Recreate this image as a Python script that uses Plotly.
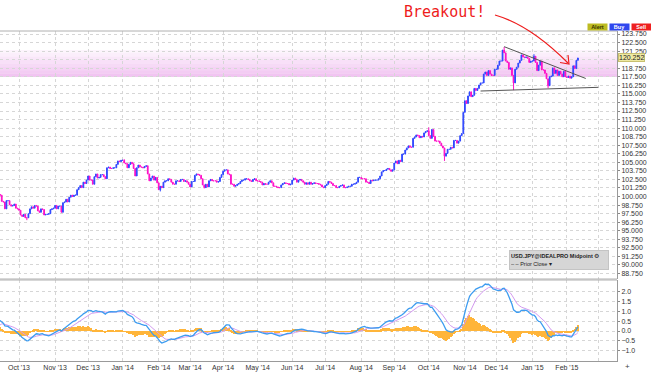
import numpy as np
import pandas as pd
import plotly.graph_objects as go

# ---------------- data (daily closes, USD.JPY) ----------------
close_2013_07 = [99.6, 100.6, 99.9, 100.1, 101.2, 101.2, 100.9, 99.8, 99.0, 99.2, 99.9, 99.1, 99.5, 100.4, 100.6,
                 99.5, 99.6, 100.3, 99.3, 98.3, 97.9, 98.1, 97.9]
close_2013_08 = [99.5, 98.8, 98.3, 97.8, 96.4, 96.7, 96.2, 96.6, 98.2, 97.8, 97.3, 97.5, 97.6, 97.3, 98.2,
                 98.7, 98.7, 98.5, 97.1, 97.8, 98.3, 98.2]
close_2013_09 = [99.4, 99.6, 99.7, 100.1, 99.1, 99.6, 100.6, 100.3, 100.3, 100.2, 99.3, 99.2, 98.2, 99.4, 99.4,
                 98.8, 98.6, 98.7, 98.9, 98.3, 98.2]
close_2013_10 = [98.0, 97.3, 97.1, 97.4, 96.9, 96.9, 97.5, 98.2, 98.5, 98.3, 98.7, 98.6, 97.9, 97.7, 98.2,
                 98.1, 97.3, 97.4, 97.4, 97.5, 98.1, 98.2, 98.3]
close_2013_11 = [98.7, 98.2, 98.6, 98.6, 97.7, 99.1, 99.2, 99.6, 99.2, 99.9, 100.2, 100.0, 100.2, 100.2, 101.0,
                 101.3, 101.6, 101.3, 102.1, 101.9, 102.4]
close_2013_12 = [103.0, 102.4, 102.4, 101.8, 102.9, 103.3, 102.7, 102.8, 103.2, 103.2, 102.9, 102.6, 104.2, 104.3,
                 104.1, 104.1, 104.2, 104.2, 104.7, 105.2, 105.1, 105.3]
close_2014_01 = [105.3, 104.9, 104.8, 104.2, 104.7, 105.0, 104.8, 104.1, 103.0, 104.2, 104.6, 104.3, 104.3, 104.2,
                 104.4, 104.5, 103.3, 102.3, 102.7, 103.0, 102.4, 102.8, 102.0]
close_2014_02 = [101.0, 101.5, 101.3, 102.1, 102.3, 102.3, 102.6, 102.5, 102.1, 101.8, 101.8, 102.3, 102.3, 102.2,
                 102.5, 102.5, 102.2, 102.3, 102.1, 101.8]
close_2014_03 = [101.4, 102.2, 102.2, 103.1, 103.3, 103.2, 103.1, 102.6, 101.7, 101.3, 101.8, 101.4, 102.3, 102.5,
                 102.3, 102.3, 102.3, 102.1, 102.2, 102.8, 103.2]
close_2014_04 = [103.7, 103.9, 103.9, 103.3, 103.2, 101.8, 101.8, 101.5, 101.6, 101.8, 101.9, 102.2, 102.4, 102.4,
                 102.6, 102.6, 102.5, 102.3, 102.2, 102.5, 102.6, 102.3]
close_2014_05 = [102.3, 102.2, 102.1, 101.7, 101.9, 101.8, 101.8, 102.1, 102.3, 102.0, 101.5, 101.5, 101.4, 101.3,
                 101.3, 101.7, 101.9, 102.0, 101.9, 101.9, 101.7, 101.8]
close_2014_06 = [102.4, 102.7, 102.5, 102.1, 102.4, 102.5, 102.3, 102.1, 101.8, 102.0, 101.8, 102.1, 101.8, 101.9,
                 102.0, 101.9, 101.9, 101.8, 101.7, 101.4, 101.3]
close_2014_07 = [101.6, 101.8, 102.2, 102.1, 101.9, 101.6, 101.6, 101.3, 101.3, 101.5, 101.6, 101.7, 101.3, 101.3,
                 101.4, 101.5, 101.5, 101.8, 101.8, 101.9, 102.1, 102.8, 102.8]
close_2014_08 = [102.6, 102.6, 102.6, 102.1, 102.1, 101.9, 102.4, 102.3, 102.4, 102.4, 102.4, 102.6, 103.0, 103.6,
                 103.8, 103.8, 104.0, 104.1, 103.9, 103.7, 103.9]
close_2014_09 = [104.9, 105.2, 104.8, 105.3, 105.1, 106.2, 106.2, 106.8, 107.1, 107.4, 107.2, 107.2, 108.5, 108.7,
                 109.0, 108.9, 108.6, 108.8, 108.7, 109.3, 109.5, 109.6]
close_2014_10 = [108.9, 108.5, 109.8, 108.8, 108.1, 108.1, 108.1, 107.8, 107.4, 107.1, 105.9, 106.3, 106.9, 106.9,
                 107.2, 107.1, 108.2, 108.2, 107.8, 108.1, 108.9, 109.2, 112.3]
close_2014_11 = [114.0, 113.6, 114.7, 115.3, 114.6, 114.8, 115.8, 115.5, 115.8, 116.3, 116.6, 116.6, 117.9, 118.2,
                 117.7, 118.4, 117.9, 117.7, 117.7, 118.6]
close_2014_12 = [118.6, 119.2, 119.8, 119.8, 121.4, 121.0, 119.8, 119.6, 118.6, 118.8, 117.7, 116.6, 118.6, 118.9,
                 119.5, 119.9, 120.7, 120.4, 120.3, 120.4, 120.2, 119.6, 119.8]
close_2015_01 = [119.8, 120.5, 119.6, 118.4, 119.2, 119.8, 118.5, 118.5, 118.0, 117.2, 116.2, 117.5, 117.6, 118.8,
                 118.0, 118.5, 117.7, 118.3, 117.9, 117.5, 118.3, 117.5]
close_2015_02 = [117.4, 117.6, 117.3, 117.5, 119.1, 118.7, 119.9, 120.25]

# notable intraday extremes (wicks)
wick_low = {"2013-10-08": 96.55, "2014-02-04": 100.75, "2014-03-14": 101.2, "2014-10-15": 105.2,
            "2014-12-16": 115.55, "2015-01-15": 115.85}
wick_high = {"2014-01-02": 105.45, "2014-10-01": 110.1, "2014-12-08": 121.85, "2015-01-02": 120.8}

# hand-drawn triangle trend lines
upper_dates = ["2014-12-08", "2015-02-18"]
upper_prices = [121.9, 117.25]
lower_dates = ["2014-11-17", "2015-03-02"]
lower_prices = [115.42, 115.96]

last_price = 120.252
band_prices = [117.48, 121.42]

price_ticks = [88.75, 90.0, 91.25, 92.5, 93.75, 95.0, 96.25, 97.5, 98.75, 100.0, 101.25, 102.5, 103.75,
               105.0, 106.25, 107.5, 108.75, 110.0, 111.25, 112.5, 113.75, 115.0, 116.25, 117.5, 118.75,
               120.0, 121.25, 122.5, 123.75]
price_tick_text = ["88.750", "90.000", "91.250", "92.500", "93.750", "95.000", "96.250", "97.500", "98.750",
                   "100.000", "101.250", "102.500", "103.750", "105.000", "106.250", "107.500", "108.750",
                   "110.000", "111.250", "112.500", "113.750", "115.000", "116.250", "117.500", "118.750",
                   "", "121.250", "122.500", "123.750"]

month_starts = ["2013-10-01", "2013-11-01", "2013-12-02", "2014-01-01", "2014-02-03", "2014-03-03",
                "2014-04-01", "2014-05-01", "2014-06-02", "2014-07-01", "2014-08-01", "2014-09-01",
                "2014-10-01", "2014-11-03", "2014-12-01", "2015-01-01", "2015-02-02", "2015-03-02"]
month_labels = ["Oct '13", "Nov '13", "Dec '13", "Jan '14", "Feb '14", "Mar '14", "Apr '14", "May '14",
                "Jun '14", "Jul '14", "Aug '14", "Sep '14", "Oct '14", "Nov '14", "Dec '14", "Jan '15",
                "Feb '15", ""]

macd_ticks = [-1.0, -0.5, 0.0, 0.5, 1.0, 1.5, 2.0]

# ---------------- build series ----------------
closes = (close_2013_07 + close_2013_08 + close_2013_09 + close_2013_10 + close_2013_11 + close_2013_12 +
          close_2014_01 + close_2014_02 + close_2014_03 + close_2014_04 + close_2014_05 + close_2014_06 +
          close_2014_07 + close_2014_08 + close_2014_09 + close_2014_10 + close_2014_11 + close_2014_12 +
          close_2015_01 + close_2015_02)
dates = pd.bdate_range("2013-07-01", "2015-02-11")
assert len(dates) == len(closes), (len(dates), len(closes))

ORIGIN = np.datetime64("2013-10-01")


def bidx(d):
    return np.busday_count(ORIGIN, np.array(d, dtype="datetime64[D]"))


x = bidx(dates.values.astype("datetime64[D]"))
opens = [closes[0]] + closes[:-1]
highs = [max(o, c) for o, c in zip(opens, closes)]
lows = [min(o, c) for o, c in zip(opens, closes)]
dstr = [d.strftime("%Y-%m-%d") for d in dates]
for i, d in enumerate(dstr):
    if d in wick_low:
        lows[i] = min(lows[i], wick_low[d])
    if d in wick_high:
        highs[i] = max(highs[i], wick_high[d])

s = pd.Series(closes)
macd = s.ewm(span=12, adjust=False).mean() - s.ewm(span=26, adjust=False).mean()
signal = macd.ewm(span=9, adjust=False).mean()
hist = macd - signal

# ---------------- geometry ----------------
W, H = 651, 372
ML, MR, MT, MB = 0, 34, 31, 11
PW, PH = W - ML - MR, H - MT - MB
PX_PER_DAY = 1.57
X0 = -19 / PX_PER_DAY
XR = [X0, X0 + PW / PX_PER_DAY]


def py(p):  # pixel y -> paper y
    return 1 - (p - MT) / PH


def px(p):
    return (p - ML) / PW


main_dom = [py(279), 1.0]
macd_dom = [0.0, py(280)]

fig = go.Figure()

# pink price zone (gradient)
n_strips = 8
lo, hi = band_prices
for k in range(n_strips):
    a = lo + (hi - lo) * k / n_strips
    b = lo + (hi - lo) * (k + 1) / n_strips
    op = 0.55 - 0.45 * k / (n_strips - 1)
    fig.add_shape(type="rect", xref="paper", yref="y", x0=0, x1=1, y0=a, y1=b,
                  fillcolor="rgba(230,150,230,%.3f)" % op, line_width=0, layer="below")

fig.add_trace(go.Candlestick(
    x=x, open=opens, high=highs, low=lows, close=closes, xaxis="x", yaxis="y",
    increasing=dict(line=dict(color="#3048ff", width=1), fillcolor="#3048ff"),
    decreasing=dict(line=dict(color="#ff10c8", width=1), fillcolor="#ff10c8"),
    whiskerwidth=0, showlegend=False, hoverinfo="skip"))

fig.add_trace(go.Scatter(x=bidx(upper_dates), y=upper_prices, mode="lines", xaxis="x", yaxis="y",
                         line=dict(color="#555555", width=1), showlegend=False, hoverinfo="skip"))
fig.add_trace(go.Scatter(x=bidx(lower_dates), y=lower_prices, mode="lines", xaxis="x", yaxis="y",
                         line=dict(color="#555555", width=1), showlegend=False, hoverinfo="skip"))

fig.add_trace(go.Bar(x=x, y=hist, width=1, xaxis="x2", yaxis="y2", marker=dict(color="#ffb53a", line_width=0),
                     showlegend=False, hoverinfo="skip"))
fig.add_trace(go.Scatter(x=x, y=signal, mode="lines", xaxis="x2", yaxis="y2",
                         line=dict(color="#d39af0", width=1), showlegend=False, hoverinfo="skip"))
fig.add_trace(go.Scatter(x=x, y=macd, mode="lines", xaxis="x2", yaxis="y2",
                         line=dict(color="#3d9cf0", width=1.3), showlegend=False, hoverinfo="skip"))

tick_x = bidx(month_starts)
tickfont = dict(family="Liberation Sans, Arial, sans-serif", size=7, color="#333333")
grid = dict(showgrid=True, gridcolor="#d6d6d6", griddash="dot", gridwidth=1, zeroline=False)

fig.update_layout(
    width=W, height=H, margin=dict(l=ML, r=MR, t=MT, b=MB, autoexpand=False),
    paper_bgcolor="white", plot_bgcolor="white", bargap=0,
    xaxis=dict(domain=[0, 1], anchor="y", range=XR, tickvals=tick_x, showticklabels=False,
               rangeslider=dict(visible=False), ticks="", automargin=False, **grid),
    xaxis2=dict(domain=[0, 1], anchor="y2", range=XR, matches="x", tickvals=tick_x, ticktext=month_labels,
                tickfont=tickfont, ticks="", showline=True, linecolor="#9a9a9a", automargin=False, **grid),
    yaxis=dict(domain=main_dom, anchor="x", side="right", range=[87.95, 124.19], tickvals=price_ticks,
               ticktext=price_tick_text, ticks="outside", ticklen=2, tickcolor="#888888", tickfont=tickfont,
               showline=True, linecolor="#9a9a9a", automargin=False, **grid),
    yaxis2=dict(domain=macd_dom, anchor="x2", side="right", range=[-1.524, 2.595], tickvals=macd_ticks,
                tickformat=".1f", ticks="outside", ticklen=2, tickcolor="#888888", tickfont=tickfont,
                showline=True, linecolor="#9a9a9a", automargin=False, **grid),
)

# panel borders
for yy in [1.0, main_dom[0], macd_dom[1]]:
    fig.add_shape(type="line", xref="paper", yref="paper", x0=0, x1=1, y0=yy, y1=yy,
                  line=dict(color="#b0b0b0", width=1))

# current price label
fig.add_annotation(xref="paper", yref="y", x=1.0, y=last_price, text="120.252", showarrow=False,
                   xanchor="left", yanchor="middle", xshift=1,
                   font=dict(family="Liberation Sans, Arial", size=7, color="#222"),
                   bgcolor="#eee9a2", bordercolor="#c8c070", borderwidth=1, borderpad=0)

# Alert / Buy / Sell buttons
for label, cx, bg, fc in [("Alert", 597, "#bdbb22", "#333300"), ("Buy", 619, "#2f47ee", "white"),
                          ("Sell", 641, "#ee2020", "white")]:
    fig.add_annotation(xref="paper", yref="paper", x=px(cx), y=py(27), text="<b>%s</b>" % label, showarrow=False,
                       xanchor="center", yanchor="middle",
                       font=dict(family="Liberation Sans, Arial", size=5.5, color=fc), bgcolor=bg,
                       width=19, height=6, borderpad=0)

# legend box
fig.add_annotation(xref="paper", yref="paper", x=px(559), y=py(260), xanchor="center", yanchor="middle",
                   text="<b>USD.JPY@IDEALPRO Midpoint</b> \u2699<br>\u2013 \u2013 Prior Close \u25be",
                   showarrow=False, align="left", font=dict(family="Liberation Sans, Arial", size=5.5, color="#222"),
                   bgcolor="#d6d6d6", bordercolor="#c4c4c4", borderwidth=1, width=96, height=16, borderpad=1)

fig.add_annotation(xref="paper", yref="paper", x=px(627), y=py(366), text="+", showarrow=False,
                   xanchor="center", yanchor="middle",
                   font=dict(family="Liberation Sans, Arial", size=8, color="#444"))

# handwritten "Breakout!" with a curved red arrow
fig.add_annotation(xref="paper", yref="paper", x=px(445), y=py(12), text="Breakout!", showarrow=False,
                   xanchor="center", yanchor="middle",
                   font=dict(family="DejaVu Sans Mono, monospace", size=15, color="#ee1c1c"))


def P(a, b):
    return "%.5f,%.5f" % (px(a), py(b))


fig.add_shape(type="path", xref="paper", yref="paper",
              path="M %s Q %s %s" % (P(495, 15), P(530, 25), P(568, 63)),
              line=dict(color="#ee1c1c", width=1.2))
fig.add_shape(type="path", xref="paper", yref="paper",
              path="M %s L %s L %s" % (P(560, 62.5), P(569, 64), P(568, 55)),
              line=dict(color="#ee1c1c", width=1.2))

fig.write_html("out.html", config={"displayModeBar": False},
               post_script="document.body.style.margin='0';document.body.style.overflow='hidden';")
